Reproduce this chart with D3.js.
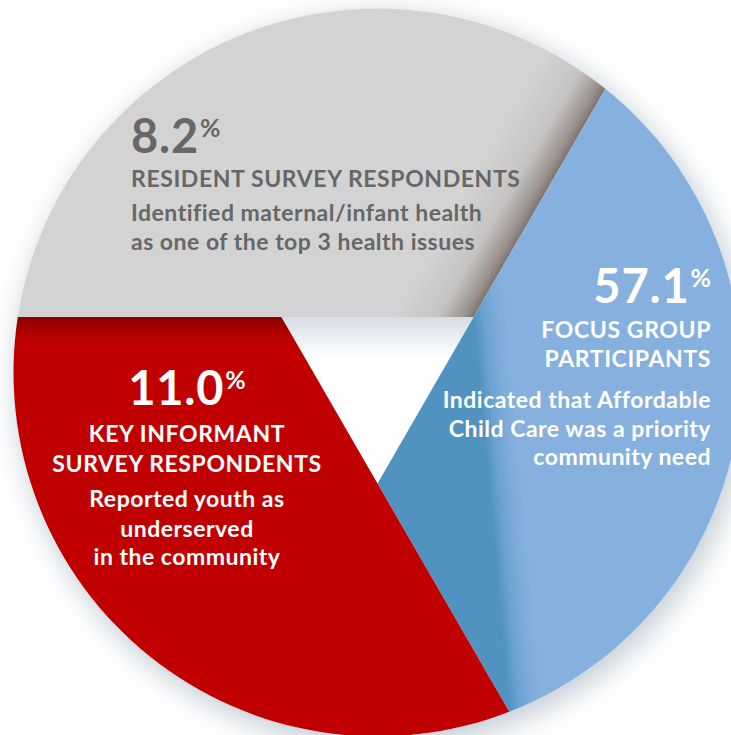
<!DOCTYPE html>
<html>
<head>
<meta charset="utf-8">
<script src="https://cdn.jsdelivr.net/npm/d3@7"></script>
<style>
  html, body { margin: 0; padding: 0; background: #ffffff; }
  svg { display: block; }
  text { font-family: Lato, "Open Sans", sans-serif; }
</style>
</head>
<body>
<svg id="chart" width="731" height="735"></svg>
<script>
// ---- data ----
const categories = ["Resident Survey Respondents", "Focus Group Participants", "Key Informant Survey Respondents"];
const values = [8.2, 57.1, 11.0];
const headings = [
  ["RESIDENT SURVEY RESPONDENTS"],
  ["FOCUS GROUP", "PARTICIPANTS"],
  ["KEY INFORMANT", "SURVEY RESPONDENTS"]
];
const descriptions = [
  ["Identified maternal/infant health", "as one of the top 3 health issues"],
  ["Indicated that Affordable", "Child Care was a priority", "community need"],
  ["Reported youth as", "underserved", "in the community"]
];

// ---- layout / style ----
const W = 731, H = 735;
const cx = 377.5, cy = 372.5, R = 364, r = 111;
const textColors = ["#676767", "#ffffff", "#ffffff"];
const labelLayout = [
  { anchor: "start",  x: 131, num: 153, head: [187], desc: [221, 250] },
  { anchor: "end",    x: 711, num: 303, head: [338, 367], desc: [408, 437, 465] },
  { anchor: "middle", x: 187, num: 405, head: [442, 472], desc: [507, 537, 565] }
];

const svg = d3.select("#chart");
const defs = svg.append("defs");

// geometry of the pinwheel: each slice is cut by an extended side of the central triangle
const d = r / 2;                         // inradius of the triangle
const startA = -Math.acos(d / R);        // where the top side meets the circle on the left
const offset = Math.acos(d / R) - Math.PI / 3;

const pie = d3.pie().value(() => 1).sort(null)
  .startAngle(startA).endAngle(startA + 2 * Math.PI);
const slices = pie(categories.map((c, i) => ({ c, v: values[i], i })));

const pt = (a, rad) => [cx + rad * Math.sin(a), cy - rad * Math.cos(a)];

// outer shadow
const fShadow = defs.append("filter").attr("id", "glow")
  .attr("x", "-20%").attr("y", "-20%").attr("width", "140%").attr("height", "140%");
fShadow.append("feGaussianBlur").attr("stdDeviation", 14);
svg.append("circle").attr("cx", cx + 5).attr("cy", cy + 8).attr("r", R + 2)
  .attr("fill", "#aebcc8").attr("opacity", 0.75).attr("filter", "url(#glow)");

svg.append("circle").attr("cx", cx).attr("cy", cy).attr("r", R).attr("fill", "#ffffff");

// central triangle with faint shadow along its top side
const triPts = slices.map(s => pt(s.startAngle + offset, r));
const gTri = defs.append("linearGradient").attr("id", "triGrad")
  .attr("gradientUnits", "userSpaceOnUse")
  .attr("x1", cx).attr("y1", cy - d).attr("x2", cx).attr("y2", cy - d + 40);
gTri.append("stop").attr("offset", 0).attr("stop-color", "#d5dde4");
gTri.append("stop").attr("offset", 1).attr("stop-color", "#ffffff");
svg.append("path").attr("d", d3.line()(triPts) + "Z").attr("fill", "url(#triGrad)");

function slicePath(s) {
  const p = d3.path();
  const a0 = s.startAngle, a1 = s.endAngle;
  const p0 = pt(a0, R);
  p.moveTo(p0[0], p0[1]);
  p.arc(cx, cy, R, a0 - Math.PI / 2, a1 - Math.PI / 2, false);
  const v1 = pt(a1 + offset, r), v0 = pt(a0 + offset, r);
  p.lineTo(v1[0], v1[1]);
  p.lineTo(v0[0], v0[1]);
  p.closePath();
  return p.toString();
}

function edgeGradient(id, a, inward, width, stops) {
  const g = defs.append("linearGradient").attr("id", id)
    .attr("gradientUnits", "userSpaceOnUse")
    .attr("x1", a[0]).attr("y1", a[1])
    .attr("x2", a[0] + inward[0] * width).attr("y2", a[1] + inward[1] * width);
  stops.forEach(st => g.append("stop").attr("offset", st[0]).attr("stop-color", st[1]));
}

// gray: shadow along edge shared with blue
{
  const s = slices[0];
  const A = pt(s.endAngle + offset, r), B = pt(s.endAngle, R);
  const dx = B[0] - A[0], dy = B[1] - A[1], L = Math.hypot(dx, dy);
  let n = [dy / L, -dx / L];
  if (n[0] > 0) n = [-n[0], -n[1]];
  edgeGradient("g0", A, n, 70, [[0, "#7d736e"], [0.12, "#9a928e"], [0.45, "#c6c4c3"], [1, "#d3d3d3"]]);
}
// blue: shadow along edge shared with red
{
  const s = slices[1];
  const A = pt(s.endAngle, R), B = pt(s.startAngle + offset, r);
  const dx = B[0] - A[0], dy = B[1] - A[1], L = Math.hypot(dx, dy);
  let n = [dy / L, -dx / L];
  if (n[0] < 0) n = [-n[0], -n[1]];
  edgeGradient("g1", A, n, 34, [[0, "#5093c1"], [0.3, "#6aa2d2"], [0.7, "#7fadda"], [1, "#86b0de"]]);
}
// red: darker along top edge shared with gray
{
  const s = slices[2];
  const A = pt(s.endAngle + offset, r);
  edgeGradient("g2", A, [0, 1], 30, [[0, "#8a0000"], [0.6, "#b50000"], [1, "#c00000"]]);
}

svg.append("g").selectAll("path").data(slices).join("path")
  .attr("d", slicePath)
  .attr("fill", (s, i) => `url(#g${i})`);

// ---- labels ----
const fmt = d3.format(".1f");
const lab = svg.append("g");
slices.forEach((s, i) => {
  const L = labelLayout[i];
  const col = textColors[i];
  const t = lab.append("text").attr("x", L.x).attr("y", L.num)
    .attr("text-anchor", L.anchor).attr("fill", col)
    .style("font-size", "47px").style("font-weight", 700).style("letter-spacing", "0.8px");
  t.append("tspan").text(fmt(values[i]));
  t.append("tspan").attr("dx", 1).attr("dy", -16).style("font-size", "25px").style("letter-spacing", "0px").text("%");
  headings[i].forEach((h, j) => {
    lab.append("text").attr("x", L.x).attr("y", L.head[j])
      .attr("text-anchor", L.anchor).attr("fill", col)
      .style("font-size", "23px").style("font-weight", 700).style("letter-spacing", "0.6px").text(h);
  });
  descriptions[i].forEach((h, j) => {
    lab.append("text").attr("x", L.x).attr("y", L.desc[j])
      .attr("text-anchor", L.anchor).attr("fill", col)
      .style("font-size", "23px").style("font-weight", 700).style("letter-spacing", "0.5px").text(h);
  });
});
</script>
</body>
</html>
